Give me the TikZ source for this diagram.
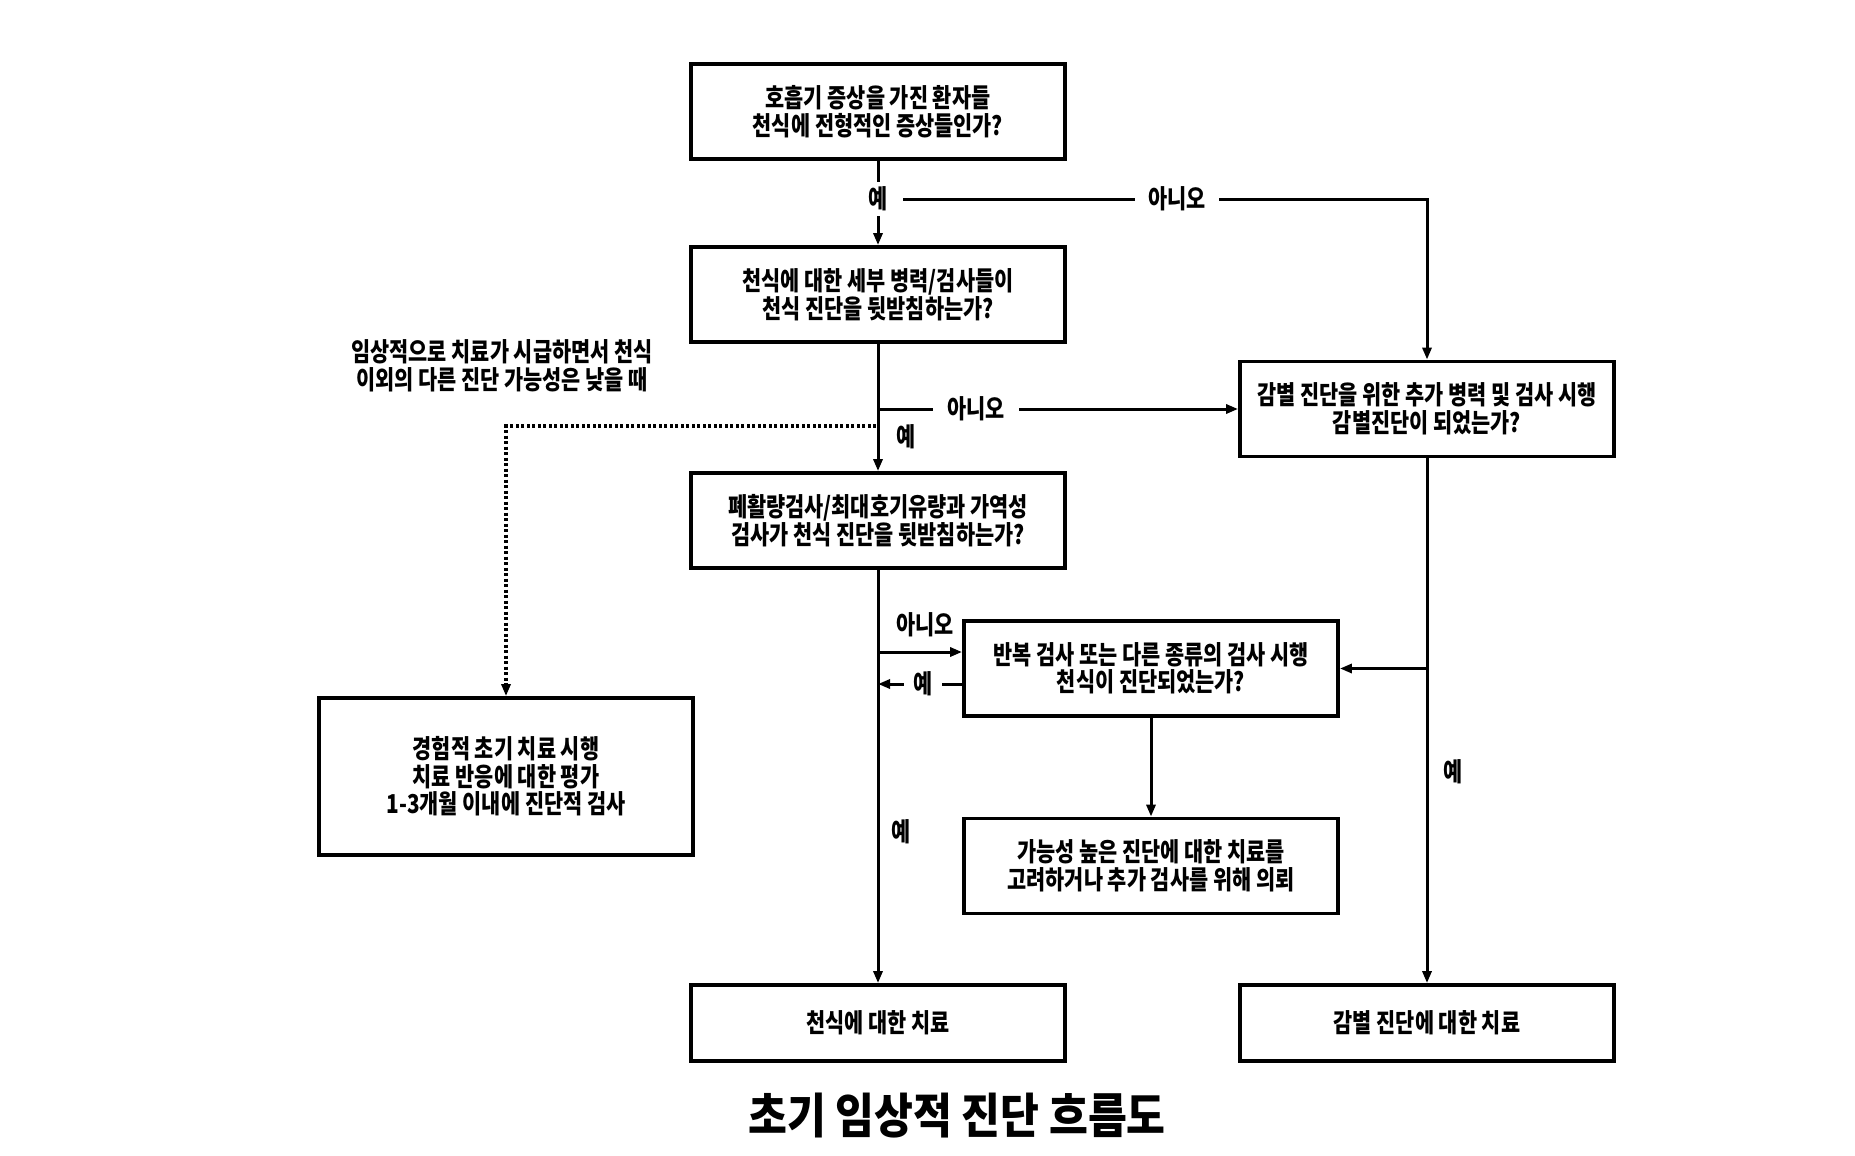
\documentclass[tikz,border=0pt]{standalone}
\usepackage{fontspec}
\setmainfont{Noto Sans CJK KR}[FakeStretch=0.80]
\newfontfamily\titlefont{Noto Sans CJK KR}[FakeStretch=0.88]
\usetikzlibrary{arrows.meta}
\newcommand\fsz{\fontsize{26}{27.5}\selectfont\bfseries}
\newcommand\tsz{\titlefont\fontsize{48}{52}\selectfont\bfseries}
\begin{document}
\begin{tikzpicture}[x=1pt,y=-1pt,
  box/.style={draw, line width=3.8pt, minimum width=374pt, minimum height=95pt, align=center, font=\fsz, inner sep=0pt},
  conn/.style={line width=3pt},
  arr/.style={conn, -{Triangle[length=12pt,width=9pt]}},
  dotarr/.style={line width=4.5pt, dash pattern=on 3pt off 2.5pt, -{Triangle[length=12pt,width=9pt]}},
  lbl/.style={font=\fsz, inner sep=0pt},
  wlbl/.style={lbl, fill=white},
]
\useasboundingbox (0,0) rectangle (1855,1156);
\fill[white] (0,0) rectangle (1855,1156);

\node[box] (b1) at (878,111.5) {호흡기 증상을 가진 환자들\\천식에 전형적인 증상들인가?};
\node[box] (b2) at (878,294.5) {천식에 대한 세부 병력/검사들이\\천식 진단을 뒷받침하는가?};
\node[box] (b3) at (878,520.5) {폐활량검사/최대호기유량과 가역성\\검사가 천식 진단을 뒷받침하는가?};
\node[box] (b4) at (1427,409) {감별 진단을 위한 추가 병력 및 검사 시행\\감별진단이 되었는가?};
\node[box] (b5) at (1151,668.5) {반복 검사 또는 다른 종류의 검사 시행\\천식이 진단되었는가?};
\node[box] (b6) at (1151,866) {가능성 높은 진단에 대한 치료를\\고려하거나 추가 검사를 위해 의뢰};
\node[box, minimum height=157pt] (b7) at (506,776.5) {경험적 초기 치료 시행\\치료 반응에 대한 평가\\1-3개월 이내에 진단적 검사};
\node[box, minimum height=76pt] (b8) at (878,1023) {천식에 대한 치료};
\node[box, minimum height=76pt] (b9) at (1427,1023) {감별 진단에 대한 치료};
\node[font=\tsz] (title) at (957,1116) {초기 임상적 진단 흐름도};
\node[lbl, align=center] (note) at (502,366) {임상적으로 치료가 시급하면서 천식\\이외의 다른 진단 가능성은 낮을 때};

% row 1
\coordinate (j1) at (878,199);
\draw[conn] (b1.south) -- (j1);
\draw[arr] (j1) -- (b2.north);
\draw[arr] (j1) -- (b4.north |- j1) -- (b4.north);
\node[wlbl, minimum width=50pt, minimum height=34pt] (y1) at (j1) {예};
\node[wlbl, minimum width=84pt, minimum height=30pt] (n1) at (1177,199) {아니오};

% row 2
\draw[arr] (b2.south) -- (b3.north);
\coordinate (j2) at (878,409);
\draw[arr] (j2) -- (b4.west |- j2);
\node[wlbl, minimum width=86pt, minimum height=30pt] (n2) at (976,409) {아니오};
\node[lbl] (y2) at (906,437) {예};
\coordinate (j3) at (876,426);
\draw[dotarr] (j3) -- (b7.north |- j3) -- (b7.north);

% row 3
\draw[arr] (b3.south) -- (b8.north);
\coordinate (j4) at (878,652);
\draw[arr] (j4) -- (b5.west |- j4);
\node[lbl] (n3) at (925,625) {아니오};
\coordinate (k5) at (b5.west |- 0,684);
\coordinate (k6) at (j4 |- k5);
\draw[arr] (k5) -- (k6);
\node[wlbl, minimum width=38pt, minimum height=26pt] (y3) at (923,684) {예};
\node[lbl] (y4) at (901,832) {예};

% right column
\draw[arr] (b4.south) -- (b9.north);
\draw[arr] (b4.south |- b5.east) -- (b5.east);
\node[lbl] (y5) at (1453,772) {예};
\draw[arr] (b5.south) -- (b6.north);
\end{tikzpicture}
\end{document}
